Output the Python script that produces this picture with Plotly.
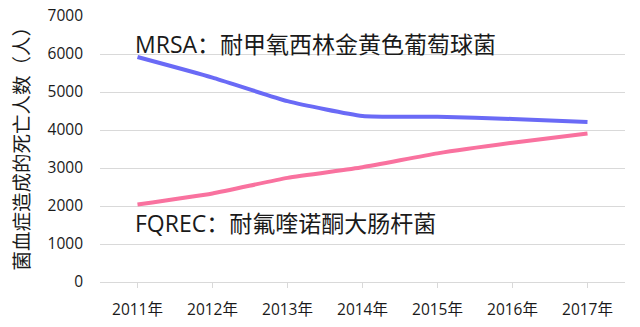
import plotly.graph_objects as go

years = ["2011年", "2012年", "2013年", "2014年", "2015年", "2016年", "2017年"]
mrsa = [5920, 5380, 4760, 4370, 4350, 4290, 4210]
fqrec = [2040, 2330, 2740, 3020, 3385, 3665, 3910]
y_ticks = [0, 1000, 2000, 3000, 4000, 5000, 6000, 7000]

FONT = "Open Sans, Noto Sans CJK SC, sans-serif"

fig = go.Figure()
fig.add_trace(go.Scatter(x=years, y=mrsa, mode="lines",
                         line=dict(color="#6a6af6", width=4, shape="spline", smoothing=0.5),
                         showlegend=False, hoverinfo="skip"))
fig.add_trace(go.Scatter(x=years, y=fqrec, mode="lines",
                         line=dict(color="#f9729f", width=4, shape="spline", smoothing=0.5),
                         showlegend=False, hoverinfo="skip"))

fig.add_annotation(x=years[0], y=6270, xref="x", yref="y",
                   text="MRSA：耐甲氧西林金黄色葡萄球菌", showarrow=False,
                   xanchor="left", yanchor="middle", xshift=-5,
                   font=dict(family=FONT, size=23, color="#1a1a1a"))
fig.add_annotation(x=years[0], y=1560, xref="x", yref="y",
                   text="FQREC：耐氟喹诺酮大肠杆菌", showarrow=False,
                   xanchor="left", yanchor="middle", xshift=-5,
                   font=dict(family=FONT, size=23, color="#1a1a1a"))
fig.add_annotation(x=-0.149, y=0.52, xref="paper", yref="paper",
                   text="菌血症造成的死亡人数（人）", showarrow=False, textangle=-90,
                   xanchor="center", yanchor="middle",
                   font=dict(family=FONT, size=19.5, color="#1a1a1a"))

fig.update_layout(
    width=640, height=327,
    margin=dict(l=100, r=15, t=16, b=45),
    paper_bgcolor="white", plot_bgcolor="white",
    font=dict(family=FONT, color="#1a1a1a"),
    xaxis=dict(type="category", range=[-0.5, 6.5], showgrid=False,
               showline=True, linecolor="#d9d9d9", linewidth=1,
               ticks="outside", ticklen=5, tickcolor="#d9d9d9",
               ticklabelstandoff=8, automargin=False,
               tickfont=dict(size=15.5, family=FONT, color="#1a1a1a"),
               fixedrange=True),
    yaxis=dict(range=[0, 7000], tickvals=y_ticks, ticktext=[str(v) for v in y_ticks],
               showgrid=True, gridcolor="#d9d9d9", gridwidth=1,
               zeroline=False, showline=False, ticks="",
               ticklabelstandoff=16, automargin=False,
               tickfont=dict(size=15.5, family=FONT, color="#1a1a1a"),
               fixedrange=True),
)

fig.write_html("out.html")
